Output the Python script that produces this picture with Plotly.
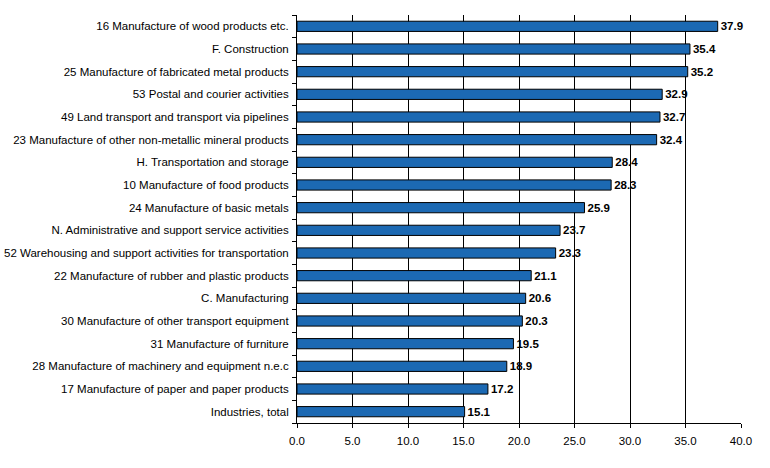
import plotly.graph_objects as go

categories = [
    "16 Manufacture of wood products etc.",
    "F. Construction",
    "25 Manufacture of fabricated metal products",
    "53 Postal and courier activities",
    "49 Land transport and transport via pipelines",
    "23 Manufacture of other non-metallic mineral products",
    "H. Transportation and storage",
    "10 Manufacture of food products",
    "24 Manufacture of basic metals",
    "N. Administrative and support service activities",
    "52 Warehousing and support activities for transportation",
    "22 Manufacture of rubber and plastic products",
    "C. Manufacturing",
    "30 Manufacture of other transport equipment",
    "31 Manufacture of furniture",
    "28 Manufacture of machinery and equipment n.e.c",
    "17 Manufacture of paper and paper products",
    "Industries, total",
]
values = [37.9, 35.4, 35.2, 32.9, 32.7, 32.4, 28.4, 28.3, 25.9, 23.7, 23.3, 21.1, 20.6, 20.3, 19.5, 18.9, 17.2, 15.1]
x_ticks = [0, 5, 10, 15, 20, 25, 30, 35, 40]
x_tick_labels = ["0.0", "5.0", "10.0", "15.0", "20.0", "25.0", "30.0", "35.0", "40.0"]

fig = go.Figure(
    go.Bar(
        y=categories,
        x=values,
        orientation="h",
        marker=dict(color="#1c69b3", line=dict(color="black", width=1)),
        width=0.45,
        text=[f"{v:.1f}" for v in values],
        textposition="outside",
        constraintext="none",
        textfont=dict(family="Liberation Sans, Arial, sans-serif", size=11.5, color="black", weight="bold"),
        cliponaxis=False,
        hoverinfo="skip",
    )
)

fig.update_layout(
    width=770,
    height=468,
    margin=dict(l=297, r=29, t=15, b=45, autoexpand=False),
    paper_bgcolor="white",
    plot_bgcolor="white",
    showlegend=False,
    font=dict(family="Liberation Sans, Arial, sans-serif", size=11.5, color="black"),
    xaxis=dict(
        range=[0, 40],
        tickvals=x_ticks,
        ticktext=x_tick_labels,
        showgrid=True,
        gridcolor="black",
        gridwidth=1,
        showline=True,
        linecolor="black",
        linewidth=1,
        ticks="outside",
        ticklen=4,
        tickcolor="black",
        zeroline=False,
        automargin=False,
        ticklabelstandoff=3,
        fixedrange=True,
    ),
    yaxis=dict(
        categoryorder="array",
        categoryarray=categories[::-1],
        autorange=False,
        range=[-0.5, len(categories) - 0.5],
        showline=True,
        linecolor="black",
        linewidth=1,
        ticks="outside",
        tickson="boundaries",
        ticklen=4,
        tickcolor="black",
        showgrid=False,
        zeroline=False,
        automargin=False,
        ticklabelstandoff=5,
        fixedrange=True,
    ),
)

fig.write_html(
    "out.html",
    config={"displayModeBar": False},
    post_script="document.body.style.margin='0';document.body.style.padding='0';",
)
